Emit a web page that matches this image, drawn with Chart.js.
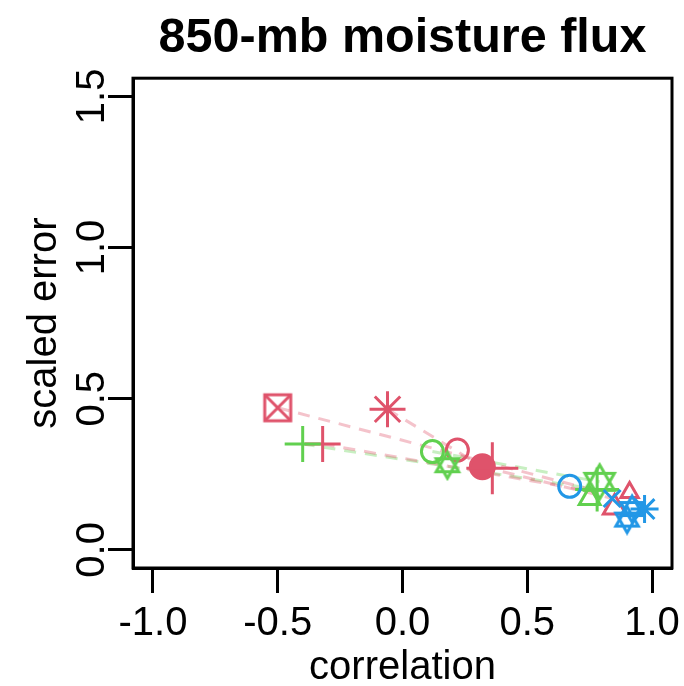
<!DOCTYPE html>
<html lang="en">
<head>
    <meta charset="UTF-8">
    <title>850-mb moisture flux</title>
    <script src="https://cdn.jsdelivr.net/npm/chart.js"></script>
    <style>
        body { margin: 0; background: #fff; }
    </style>
</head>
<body>
    <canvas id="fluxChart" width="684" height="686"></canvas>
    <script>
        // axis ticks
        const corrTicks = [-1.0, -0.5, 0.0, 0.5, 1.0];
        const errTicks = [0.0, 0.5, 1.0, 1.5];

        // red symbols
        const redCorr = [-0.50, -0.06, -0.32, 0.22, 0.32, 0.36, 0.85, 0.91];
        const redErr = [0.47, 0.465, 0.35, 0.33, 0.275, 0.27, 0.14, 0.19];

        // green symbols
        const greenCorr = [-0.40, 0.12, 0.18, 0.79, 0.78, 0.75];
        const greenErr = [0.35, 0.325, 0.28, 0.225, 0.20, 0.17];

        // blue symbols
        const blueCorr = [0.67, 0.84, 0.92, 0.97, 0.90];
        const blueErr = [0.21, 0.17, 0.135, 0.135, 0.10];

        // dashed links (start -> end)
        const redLinkCorr = [[-0.50, 0.80], [-0.06, 0.32], [-0.32, 0.78], [0.32, 0.84]];
        const redLinkErr = [[0.47, 0.19], [0.465, 0.275], [0.35, 0.19], [0.275, 0.17]];
        const greenLinkCorr = [[-0.40, 0.78], [0.12, 0.79]];
        const greenLinkErr = [[0.35, 0.20], [0.325, 0.225]];

        const RED = '#DF536B', GREEN = '#61D04F', BLUE = '#2297E6';

        // R style symbols that chart.js does not have
        function boxCross(color, size) {
            const c = document.createElement('canvas');
            c.width = size + 6; c.height = size + 6;
            const g = c.getContext('2d');
            g.strokeStyle = color; g.lineWidth = 3;
            g.strokeRect(3, 3, size, size);
            g.beginPath();
            g.moveTo(3, 3); g.lineTo(3 + size, 3 + size);
            g.moveTo(3 + size, 3); g.lineTo(3, 3 + size);
            g.stroke();
            return c;
        }
        function davidStar(color, size) {
            const c = document.createElement('canvas');
            c.width = size + 6; c.height = size + 6;
            const g = c.getContext('2d');
            const cx = c.width / 2, cy = c.height / 2, r = size / 2;
            g.strokeStyle = color; g.lineWidth = 3;
            [0, Math.PI].forEach(function (rot) {
                g.beginPath();
                for (let k = 0; k < 3; k++) {
                    const a = rot + k * 2 * Math.PI / 3;
                    const px = cx + r * Math.sin(a), py = cy - r * Math.cos(a);
                    if (k === 0) g.moveTo(px, py); else g.lineTo(px, py);
                }
                g.closePath();
                g.stroke();
            });
            return c;
        }

        function pts(xs, ys) {
            return xs.map(function (x, i) { return { x: x, y: ys[i] }; });
        }
        function links(xs, ys, color) {
            return xs.map(function (seg, i) {
                return {
                    data: pts(seg, ys[i]),
                    showLine: true,
                    borderColor: color,
                    borderWidth: 3,
                    borderDash: [12, 9],
                    pointRadius: 0,
                    order: 10
                };
            });
        }

        const datasets = []
            .concat(links(redLinkCorr, redLinkErr, 'rgba(223, 83, 107, 0.35)'))
            .concat(links(greenLinkCorr, greenLinkErr, 'rgba(97, 208, 79, 0.35)'));

        datasets.push({
            label: 'red',
            data: pts(redCorr, redErr),
            pointStyle: [boxCross(RED, 26), 'star', 'cross', 'circle', 'circle', 'cross', 'triangle', 'triangle'],
            pointRadius: [13, 18, 18, 11, 12, 26, 13, 10],
            backgroundColor: ['transparent', RED, RED, 'transparent', RED, RED, 'transparent', 'transparent'],
            borderColor: RED,
            borderWidth: 3,
            order: 2
        });
        datasets.push({
            label: 'green',
            data: pts(greenCorr, greenErr),
            pointStyle: ['cross', 'circle', davidStar(GREEN, 26), davidStar(GREEN, 34), 'cross', 'triangle'],
            pointRadius: [18, 11, 13, 17, 22, 12],
            backgroundColor: 'transparent',
            borderColor: GREEN,
            borderWidth: 3,
            order: 1
        });
        datasets.push({
            label: 'blue',
            data: pts(blueCorr, blueErr),
            pointStyle: ['circle', 'crossRot', davidStar(BLUE, 26), 'star', davidStar(BLUE, 26)],
            pointRadius: [11, 12, 13, 14, 13],
            backgroundColor: 'transparent',
            borderColor: BLUE,
            borderWidth: 3,
            order: 0
        });

        const boxPlugin = {
            id: 'box',
            afterDatasetsDraw: function (chart) {
                const a = chart.chartArea, ctx = chart.ctx;
                ctx.save();
                ctx.strokeStyle = '#000';
                ctx.lineWidth = 3;
                ctx.strokeRect(a.left, a.top, a.right - a.left, a.bottom - a.top);
                ctx.restore();
            }
        };

        // keep the tick labels from pushing the plot box around
        function noPadding(scale) {
            scale.paddingLeft = scale.paddingRight = scale.paddingTop = scale.paddingBottom = 0;
        }

        const font = 'Liberation Sans, Arial, sans-serif';

        new Chart(document.getElementById('fluxChart').getContext('2d'), {
            type: 'scatter',
            data: { datasets: datasets },
            plugins: [boxPlugin],
            options: {
                responsive: false,
                animation: false,
                layout: { autoPadding: false, padding: { left: 0, right: 12, top: 0, bottom: 0 } },
                scales: {
                    x: {
                        type: 'linear',
                        min: -1.08,
                        max: 1.08,
                        afterBuildTicks: function (scale) {
                            scale.ticks = corrTicks.map(function (v) { return { value: v }; });
                        },
                        afterFit: function (scale) {
                            scale.height = 118;
                            noPadding(scale);
                        },
                        ticks: {
                            color: '#000',
                            font: { family: font, size: 40 },
                            padding: 7,
                            maxRotation: 0,
                            callback: function (v) { return v.toFixed(1); }
                        },
                        grid: {
                            drawOnChartArea: false,
                            drawTicks: true,
                            tickLength: 25,
                            tickColor: '#000',
                            tickWidth: 3
                        },
                        border: { display: true, color: '#000', width: 3 },
                        title: {
                            display: true,
                            text: 'correlation',
                            color: '#000',
                            font: { family: font, size: 40 },
                            padding: { top: 0, bottom: -6 }
                        }
                    },
                    y: {
                        type: 'linear',
                        min: -0.06,
                        max: 1.56,
                        afterBuildTicks: function (scale) {
                            scale.ticks = errTicks.map(function (v) { return { value: v }; });
                        },
                        afterFit: function (scale) {
                            scale.width = 133;
                            noPadding(scale);
                        },
                        ticks: {
                            color: '#000',
                            font: { family: font, size: 40 },
                            padding: -13,
                            crossAlign: 'center',
                            minRotation: 90,
                            maxRotation: 90,
                            callback: function (v) { return v.toFixed(1); }
                        },
                        grid: {
                            drawOnChartArea: false,
                            drawTicks: true,
                            tickLength: 25,
                            tickColor: '#000',
                            tickWidth: 3
                        },
                        border: { display: true, color: '#000', width: 3 },
                        title: {
                            display: true,
                            text: 'scaled error',
                            color: '#000',
                            font: { family: font, size: 40 },
                            padding: { top: 21, bottom: 0 }
                        }
                    }
                },
                plugins: {
                    legend: { display: false },
                    tooltip: { enabled: false },
                    title: {
                        display: true,
                        fullSize: false,
                        text: '850-mb moisture flux',
                        color: '#000',
                        font: { family: font, size: 48.5, weight: 'bold' },
                        padding: { top: 10, bottom: 10 }
                    }
                }
            }
        });
    </script>
</body>
</html>
